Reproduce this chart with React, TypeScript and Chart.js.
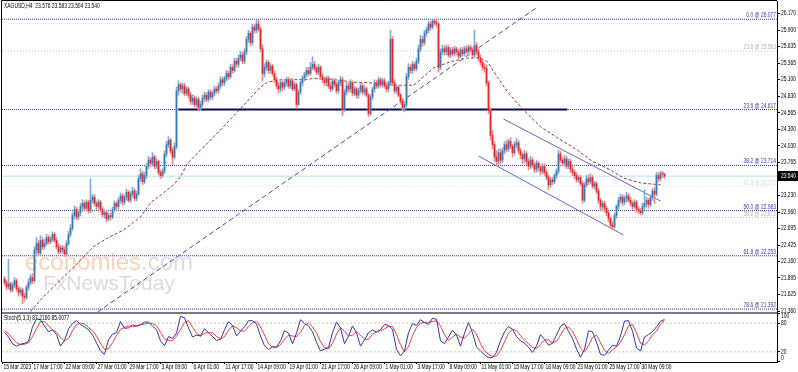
import React, { useEffect, useRef } from "react";
import { Chart, registerables } from "chart.js";
Chart.register(...registerables);

const W = 798;
const H = 372;

// ---------- header / legend texts ----------
const headerText = "XAGUSD,H4  23.576 23.583 23.504 23.540";
const stochText = "Stoch(5,3,3) 87.2160 85.0077";

// ---------- x axis (bar index, H4 bars) ----------
const xTickBars = [-1, 14, 30, 46, 62, 78, 94, 110, 126, 142, 158, 174, 190, 206, 222, 238, 254, 270, 286, 302, 318];
const xTickLabels = [
  "15 Mar 2023", "17 Mar 17:00", "22 Mar 09:00", "27 Mar 01:00", "29 Mar 17:00", "3 Apr 09:00",
  "6 Apr 01:00", "11 Apr 17:00", "14 Apr 09:00", "19 Apr 01:00", "21 Apr 17:00", "26 Apr 09:00",
  "1 May 01:00", "3 May 17:00", "8 May 09:00", "11 May 01:00", "15 May 17:00", "18 May 09:00",
  "23 May 01:00", "25 May 17:00", "30 May 09:00",
];

// ---------- price axis ----------
const yTickValues = [26.17, 25.9, 25.635, 25.365, 25.1, 24.83, 24.565, 24.3, 24.03, 23.765, 23.23, 22.96, 22.695, 22.425, 22.16, 21.895, 21.625, 21.36];
const yTickLabels = ["26.170", "25.900", "25.635", "25.365", "25.100", "24.830", "24.565", "24.300", "24.030", "23.765", "23.230", "22.960", "22.695", "22.425", "22.160", "21.895", "21.625", "21.360"];
const priceMin = 21.344;
const priceMax = 26.372;
const lastPrice = 23.54;
const lastPriceLabel = "23.540";

// ---------- candles ----------
const firstOpen = 21.88;
const closes = [
  21.82, 21.75, 21.80, 21.70, 21.78, 21.85, 21.72, 21.66, 21.70, 21.60,
  21.58, 21.74, 21.82, 21.90, 21.85, 22.35, 22.45, 22.30, 22.50, 22.40,
  22.45, 22.55, 22.48, 22.52, 22.60, 22.50, 22.40, 22.32, 22.38, 22.35,
  22.28, 22.45, 22.60, 22.70, 22.90, 23.00, 22.88, 22.95, 23.05, 23.10,
  23.02, 23.12, 22.98, 23.15, 23.20, 23.10, 23.05, 23.12, 23.00, 22.92,
  22.95, 22.85, 22.90, 22.88, 23.00, 23.10, 23.05, 23.15, 23.22, 23.12,
  23.20, 23.28, 23.15, 23.25, 23.30, 23.18, 23.25, 23.50, 23.58, 23.45,
  23.55, 23.70, 23.80, 23.75, 23.85, 23.70, 23.78, 23.60, 23.55, 23.62,
  23.90, 24.05, 24.12, 23.95, 23.85, 24.02, 24.92, 25.02, 24.95, 25.00,
  24.88, 24.95, 24.85, 24.75, 24.80, 24.70, 24.78, 24.65, 24.70, 24.80,
  24.85, 24.78, 24.90, 24.82, 24.88, 24.95, 24.92, 25.00, 25.10, 25.05,
  25.12, 25.20, 25.15, 25.30, 25.25, 25.40, 25.35, 25.45, 25.50, 25.40,
  25.55, 25.75, 25.85, 25.70, 25.95, 25.90, 26.00, 25.92, 25.60, 25.20,
  25.30, 25.38, 25.25, 25.32, 25.20, 25.10, 25.00, 24.95, 25.05, 24.98,
  25.05, 25.10, 25.00, 25.08, 24.95, 25.02, 24.70, 24.90, 25.05, 25.12,
  25.18, 25.25, 25.20, 25.30, 25.35, 25.28, 25.22, 25.30, 25.15, 25.10,
  25.05, 25.12, 25.00, 24.95, 25.08, 25.02, 24.92, 25.05, 25.10, 24.62,
  24.90, 25.00, 24.95, 25.05, 24.88, 24.95, 24.85, 24.92, 25.00, 24.90,
  24.95, 24.85, 24.55, 24.82, 24.95, 25.05, 25.00, 25.10, 25.02, 25.08,
  25.00, 24.95, 25.05, 25.75, 25.05, 24.92, 24.98, 24.85, 24.75, 24.65,
  24.70, 25.15, 25.30, 25.25, 25.35, 25.28, 25.40, 25.60, 25.75, 25.70,
  25.85, 25.90, 26.00, 25.95, 26.05, 26.02, 26.00, 25.30, 25.55, 25.60,
  25.55, 25.62, 25.50, 25.58, 25.52, 25.60, 25.55, 25.48, 25.58, 25.52,
  25.60, 25.55, 25.62, 25.58, 25.50, 25.65, 25.55, 25.45, 25.38, 25.30,
  25.28, 25.05, 24.60, 24.20, 24.05, 23.85, 23.78, 23.92, 23.80, 23.95,
  24.05, 23.98, 24.10, 24.02, 23.92, 24.05, 24.08, 23.95, 23.88, 23.82,
  23.90, 23.78, 23.70, 23.80, 23.72, 23.65, 23.75, 23.68, 23.62, 23.70,
  23.60, 23.52, 23.40, 23.48, 23.45, 23.55, 23.62, 23.90, 23.80, 23.75,
  23.82, 23.70, 23.78, 23.65, 23.60, 23.55, 23.48, 23.52, 23.42, 23.15,
  23.40, 23.50, 23.45, 23.52, 23.38, 23.42, 23.30, 23.15, 23.05, 23.10,
  23.02, 22.95, 22.85, 22.75, 22.72, 22.90, 23.05, 23.15, 23.20, 23.12,
  23.18, 23.22, 23.15, 23.10, 23.05, 23.12, 23.00, 22.98, 22.95, 23.05,
  23.10, 23.15, 23.08, 23.20, 23.30, 23.25, 23.55, 23.50, 23.58, 23.576, 23.54,
];
const highs = [
  21.92, 21.86, 22.20, 21.83, 21.82, 21.90, 21.88, 21.76, 21.74, 21.73,
  21.65, 21.78, 21.88, 21.95, 21.96, 22.40, 22.55, 22.50, 22.58, 22.55,
  22.52, 22.60, 22.58, 22.57, 22.64, 22.63, 22.55, 22.45, 22.42, 22.42,
  22.40, 22.50, 22.65, 22.76, 22.95, 23.06, 23.04, 23.00, 23.10, 23.16,
  23.14, 23.16, 23.15, 23.50, 23.25, 23.24, 23.14, 23.16, 23.15, 23.04,
  23.00, 22.99, 22.95, 22.94, 23.04, 23.14, 23.13, 23.19, 23.27, 23.26,
  23.24, 23.33, 23.31, 23.29, 23.36, 23.34, 23.30, 23.55, 23.66, 23.62,
  23.60, 23.75, 23.86, 23.84, 23.92, 23.88, 23.82, 23.80, 23.64, 23.66,
  23.95, 24.10, 24.18, 24.15, 24.00, 24.08, 24.98, 25.08, 25.05, 25.04,
  25.04, 24.99, 24.98, 24.90, 24.86, 24.84, 24.82, 24.82, 24.75, 24.85,
  24.90, 24.89, 24.94, 24.93, 24.92, 25.00, 24.99, 25.05, 25.15, 25.14,
  25.16, 25.25, 25.24, 25.35, 25.34, 25.45, 25.44, 25.50, 25.56, 25.54,
  25.60, 25.80, 25.90, 25.88, 26.00, 25.99, 26.06, 26.07, 25.95, 25.66,
  25.36, 25.42, 25.41, 25.36, 25.35, 25.24, 25.14, 25.06, 25.10, 25.08,
  25.10, 25.14, 25.14, 25.12, 25.12, 25.06, 25.05, 24.94, 25.08, 25.16,
  25.22, 25.30, 25.30, 25.38, 25.47, 25.40, 25.32, 25.35, 25.33, 25.20,
  25.14, 25.16, 25.16, 25.06, 25.12, 25.12, 25.06, 25.09, 25.15, 25.14,
  24.95, 25.06, 25.05, 25.10, 25.08, 24.99, 24.98, 24.96, 25.05, 25.04,
  25.00, 24.98, 24.88, 24.86, 24.98, 25.10, 25.09, 25.14, 25.13, 25.12,
  25.12, 25.05, 25.08, 25.90, 25.80, 25.10, 25.02, 25.00, 24.88, 24.80,
  24.75, 25.20, 25.36, 25.34, 25.40, 25.38, 25.45, 25.66, 25.82, 25.80,
  25.90, 25.95, 26.05, 26.04, 26.07, 26.077, 26.06, 26.03, 25.60, 25.66,
  25.65, 25.66, 25.66, 25.62, 25.62, 25.64, 25.63, 25.59, 25.62, 25.62,
  25.64, 25.65, 25.66, 25.66, 25.62, 25.90, 25.70, 25.60, 25.50, 25.42,
  25.36, 25.34, 25.08, 24.65, 24.28, 24.10, 23.95, 23.98, 23.98, 24.00,
  24.10, 24.12, 24.14, 24.16, 24.06, 24.10, 24.15, 24.12, 23.99, 23.92,
  23.96, 23.94, 23.82, 23.86, 23.84, 23.76, 23.80, 23.78, 23.72, 23.74,
  23.74, 23.64, 23.56, 23.52, 23.52, 23.58, 23.66, 23.96, 23.94, 23.84,
  23.88, 23.86, 23.82, 23.82, 23.70, 23.64, 23.60, 23.56, 23.55, 23.46,
  23.44, 23.55, 23.56, 23.58, 23.55, 23.46, 23.45, 23.34, 23.18, 23.14,
  23.14, 23.06, 22.98, 22.88, 22.80, 22.94, 23.08, 23.20, 23.25, 23.24,
  23.22, 23.28, 23.26, 23.20, 23.14, 23.16, 23.15, 23.05, 23.02, 23.10,
  23.32, 23.20, 23.18, 23.24, 23.34, 23.36, 23.60, 23.60, 23.62, 23.62, 23.583,
];
const lows = [
  21.78, 21.70, 21.71, 21.66, 21.67, 21.74, 21.68, 21.60, 21.62, 21.48,
  21.52, 21.55, 21.70, 21.78, 21.80, 21.82, 22.28, 22.25, 22.26, 22.35,
  22.36, 22.42, 22.44, 22.45, 22.48, 22.46, 22.36, 22.28, 22.29, 22.30,
  22.24, 22.25, 22.42, 22.56, 22.66, 22.85, 22.83, 22.84, 22.90, 23.00,
  22.97, 22.98, 22.94, 22.95, 23.10, 23.06, 23.00, 23.01, 22.96, 22.88,
  22.86, 22.80, 22.82, 22.83, 22.85, 22.96, 23.00, 23.01, 23.10, 23.07,
  23.08, 23.15, 23.12, 23.12, 23.20, 23.14, 23.14, 23.22, 23.45, 23.40,
  23.42, 23.50, 23.66, 23.70, 23.72, 23.66, 23.66, 23.56, 23.50, 23.52,
  23.58, 23.85, 24.00, 23.90, 23.72, 23.82, 23.98, 24.85, 24.90, 24.88,
  24.84, 24.84, 24.80, 24.70, 24.70, 24.66, 24.66, 24.60, 24.60, 24.66,
  24.75, 24.74, 24.74, 24.78, 24.78, 24.84, 24.88, 24.88, 24.96, 25.00,
  25.00, 25.08, 25.10, 25.12, 25.20, 25.22, 25.30, 25.30, 25.40, 25.36,
  25.36, 25.50, 25.70, 25.65, 25.66, 25.85, 25.86, 25.88, 25.55, 25.08,
  25.14, 25.25, 25.20, 25.20, 25.16, 25.05, 24.95, 24.88, 24.90, 24.92,
  24.94, 25.00, 24.96, 24.96, 24.92, 24.92, 24.64, 24.68, 24.86, 25.00,
  25.08, 25.14, 25.16, 25.17, 25.26, 25.24, 25.18, 25.18, 25.10, 25.05,
  25.00, 25.00, 24.96, 24.90, 24.92, 24.98, 24.88, 24.88, 25.00, 24.52,
  24.58, 24.85, 24.90, 24.90, 24.84, 24.84, 24.80, 24.80, 24.88, 24.86,
  24.85, 24.82, 24.50, 24.52, 24.78, 24.90, 24.96, 24.96, 24.98, 24.98,
  24.96, 24.90, 24.90, 25.00, 25.00, 24.88, 24.88, 24.82, 24.70, 24.60,
  24.58, 24.66, 25.10, 25.20, 25.20, 25.24, 25.24, 25.36, 25.55, 25.64,
  25.66, 25.80, 25.86, 25.90, 25.92, 25.98, 25.95, 25.22, 25.26, 25.50,
  25.50, 25.50, 25.46, 25.46, 25.48, 25.48, 25.50, 25.44, 25.45, 25.48,
  25.48, 25.52, 25.50, 25.54, 25.45, 25.46, 25.50, 25.40, 25.33, 25.25,
  25.22, 25.00, 24.55, 24.12, 23.98, 23.78, 23.70, 23.72, 23.74, 23.76,
  23.90, 23.93, 23.94, 23.98, 23.85, 23.88, 24.00, 23.90, 23.82, 23.74,
  23.76, 23.72, 23.64, 23.66, 23.68, 23.60, 23.60, 23.62, 23.56, 23.58,
  23.55, 23.48, 23.32, 23.36, 23.40, 23.42, 23.50, 23.58, 23.76, 23.70,
  23.70, 23.66, 23.66, 23.60, 23.55, 23.50, 23.44, 23.44, 23.38, 23.10,
  23.12, 23.36, 23.40, 23.42, 23.34, 23.34, 23.26, 23.10, 22.98, 22.98,
  22.96, 22.90, 22.80, 22.70, 22.67, 22.70, 22.86, 23.00, 23.10, 23.06,
  23.08, 23.12, 23.12, 23.06, 23.00, 23.02, 22.96, 22.94, 22.91, 22.92,
  23.00, 23.04, 23.02, 23.05, 23.15, 23.10, 23.22, 23.45, 23.46, 23.52, 23.504,
];

// ---------- moving average (dashed red), vertices ----------
const maBars = [13, 14.5, 19.5, 24.5, 38, 44.5, 51.5, 59.5, 68, 73, 79.5, 84.5, 88, 91.5, 98, 109, 128, 131.5, 138, 149.5, 158, 174.5, 183, 198, 204.5, 206.5, 214.5, 223, 231.5, 238, 241.5, 246.5, 251.5, 259.5, 268, 276.5, 286.5, 293, 303, 309.5, 318, 328];
const maValues = [21.35, 21.41, 21.59, 21.75, 22.18, 22.40, 22.54, 22.67, 22.88, 23.11, 23.27, 23.40, 23.53, 23.75, 23.96, 24.32, 24.98, 25.06, 25.10, 25.10, 25.13, 25.06, 25.05, 25.01, 25.01, 25.06, 25.29, 25.39, 25.45, 25.45, 25.39, 25.14, 24.90, 24.61, 24.34, 24.16, 23.96, 23.80, 23.64, 23.51, 23.43, 23.40];

// ---------- drawn objects ----------
const trendBars = [46.5, 266.5];
const trendValues = [21.344, 26.275];
const supportBars = [87, 281.5];
const supportValue = 24.617;
const channelUpperBars = [249.5, 328];
const channelUpperValues = [24.464, 23.138];
const channelLowerBars = [237, 309.5];
const channelLowerValues = [23.866, 22.589];

const fibBlueNames = ["0.0", "23.6", "38.2", "50.0", "61.8", "78.6"];
const fibBlueLevels = [26.077, 24.617, 23.714, 22.983, 22.253, 21.392];
const fibGrayNames = ["23.6", "61.8", "38.2"];
const fibGrayLevels = [25.563, 23.372, 22.872];

// ---------- stochastic (every 2nd bar) ----------
const stochStep = 2;
const stochK = [
  61, 51, 37, 32, 36, 38, 42, 72, 89, 87, 74, 62, 66, 56, 32, 44, 68, 79, 85, 77,
  72, 66, 55, 39, 22, 15, 45, 57, 60, 83, 69, 70, 76, 74, 77, 82, 82, 74, 66, 43,
  33, 52, 48, 59, 94, 91, 70, 51, 55, 53, 68, 60, 52, 44, 46, 66, 83, 75, 53, 63,
  72, 85, 85, 78, 53, 33, 25, 31, 30, 43, 64, 59, 37, 59, 87, 79, 74, 62, 40, 22,
  26, 29, 60, 82, 70, 37, 53, 74, 60, 32, 45, 60, 66, 61, 66, 77, 75, 67, 25, 12,
  22, 60, 79, 75, 87, 81, 77, 90, 88, 43, 37, 51, 65, 55, 32, 59, 81, 60, 30, 22,
  14, 8, 8, 19, 43, 62, 73, 67, 52, 43, 38, 30, 19, 32, 56, 46, 34, 38, 55, 73,
  79, 63, 48, 26, 9, 25, 64, 62, 40, 15, 13, 24, 34, 32, 53, 84, 85, 63, 28, 22,
  51, 56, 62, 72, 84, 87.2,
];
const stochD = [
  64, 58, 48, 39, 35, 36, 39, 52, 68, 83, 83, 74, 66, 61, 50, 43, 48, 64, 77, 80,
  78, 71, 64, 53, 38, 25, 27, 39, 54, 67, 71, 74, 72, 73, 76, 78, 80, 79, 74, 61,
  47, 43, 44, 53, 67, 81, 85, 71, 59, 53, 59, 60, 60, 52, 47, 52, 65, 75, 70, 64,
  63, 73, 81, 83, 72, 55, 37, 30, 29, 35, 46, 55, 53, 52, 61, 75, 80, 72, 59, 41,
  29, 26, 38, 57, 71, 63, 53, 55, 62, 55, 46, 46, 57, 62, 64, 68, 73, 73, 56, 35,
  20, 31, 54, 71, 80, 81, 82, 83, 85, 74, 56, 44, 51, 57, 51, 49, 57, 67, 57, 37,
  22, 15, 10, 12, 23, 41, 59, 67, 64, 54, 44, 37, 29, 27, 36, 45, 45, 39, 42, 55,
  69, 72, 63, 46, 28, 20, 33, 50, 55, 39, 23, 17, 24, 30, 40, 56, 74, 77, 59, 38,
  34, 43, 56, 63, 78, 85.0,
];
const stochLevels = [80, 20];
const stochTicks = [100, 80, 20, 0];

// ---------- styling ----------
const FONT = "'Liberation Sans', Arial, sans-serif";
const SMALL = `6.5px ${FONT}`;
const SQUEEZE = 0.76;
const X_MIN = -1.25;
const X_MAX = 386.25;
const MAIN_WEIGHT = 311;
const STOCH_WEIGHT = 50;

function squeezeText(ctx: CanvasRenderingContext2D, t: string, x: number, y: number) {
  const w = ctx.measureText(t).width;
  ctx.fillText(t, x, y, w * SQUEEZE);
}

export default function App() {
  const ref = useRef<HTMLCanvasElement | null>(null);

  useEffect(() => {
    document.body.style.margin = "0";
    const canvas = ref.current;
    if (!canvas) return;

    const opens = [firstOpen, ...closes.slice(0, -1)];
    const isUp = (i: number) => closes[i] >= opens[i];

    const hLine = (lvl: number) => [
      { x: X_MIN, y: lvl },
      { x: X_MAX, y: lvl },
    ];

    const datasets: any[] = [];

    // candle bodies
    datasets.push({
      type: "bar",
      data: closes.map((c, i) => ({ x: i, y: [opens[i], c] })),
      backgroundColor: (ctx: any) => (isUp(ctx.dataIndex) ? "#3f78b0" : "#ee2222"),
      borderWidth: 0,
      barThickness: 1,
      minBarLength: 1,
      grouped: false,
      xAxisID: "x",
      yAxisID: "y",
      order: 1,
    });
    // candle wicks
    datasets.push({
      type: "bar",
      data: closes.map((c, i) => ({
        x: i,
        y: [Math.min(lows[i], opens[i], c), Math.max(highs[i], opens[i], c)],
      })),
      backgroundColor: (ctx: any) => (isUp(ctx.dataIndex) ? "#86acd2" : "#f38a8a"),
      borderWidth: 0,
      barThickness: 1,
      grouped: false,
      xAxisID: "x",
      yAxisID: "y",
      order: 2,
    });

    const lineBase = {
      type: "line",
      pointRadius: 0,
      borderWidth: 1,
      tension: 0,
      fill: false,
      xAxisID: "x",
      yAxisID: "y",
    };

    datasets.push({
      ...lineBase,
      data: maBars.map((b, i) => ({ x: b, y: maValues[i] })),
      borderColor: "#a83232",
      borderDash: [3, 2],
      order: 3,
    });
    datasets.push({
      ...lineBase,
      data: trendBars.map((b, i) => ({ x: b, y: trendValues[i] })),
      borderColor: "#4848b8",
      borderDash: [5, 3],
      order: 4,
    });
    datasets.push({
      ...lineBase,
      data: supportBars.map((b) => ({ x: b, y: supportValue })),
      borderColor: "#0c0c48",
      borderWidth: 2,
      order: 4,
    });
    datasets.push({
      ...lineBase,
      data: channelUpperBars.map((b, i) => ({ x: b, y: channelUpperValues[i] })),
      borderColor: "#6464cc",
      order: 4,
    });
    datasets.push({
      ...lineBase,
      data: channelLowerBars.map((b, i) => ({ x: b, y: channelLowerValues[i] })),
      borderColor: "#6464cc",
      order: 4,
    });
    fibBlueLevels.forEach((lvl) =>
      datasets.push({ ...lineBase, data: hLine(lvl), borderColor: "#3a3aa6", borderDash: [1, 1], order: 10 })
    );
    fibGrayLevels.forEach((lvl, k) =>
      datasets.push({
        ...lineBase,
        data: hLine(lvl),
        borderColor: k === 1 ? "#e4def2" : "#c4c4c4",
        borderDash: [1, 2],
        order: 10,
      })
    );
    datasets.push({ ...lineBase, data: hLine(lastPrice), borderColor: "#b4e2ea", order: 11 });

    // stochastic
    const stochBase = {
      type: "line",
      pointRadius: 0,
      borderWidth: 1,
      tension: 0,
      fill: false,
      xAxisID: "x",
      yAxisID: "ys",
    };
    stochLevels.forEach((lvl) =>
      datasets.push({ ...stochBase, data: hLine(lvl), borderColor: "#c8c8c8", borderDash: [2, 2], order: 12 })
    );
    datasets.push({
      ...stochBase,
      data: stochD.map((v, j) => ({ x: j * stochStep, y: v })),
      borderColor: "#ff3a3a",
      order: 6,
    });
    datasets.push({
      ...stochBase,
      data: stochK.map((v, j) => ({ x: j * stochStep, y: v })),
      borderColor: "#3434b0",
      order: 5,
    });

    const overlay = {
      id: "mt4overlay",
      beforeDatasetsDraw(chart: any) {
        const ctx = chart.ctx;
        ctx.save();
        ctx.textBaseline = "alphabetic";
        ctx.textAlign = "left";
        ctx.font = `24px ${FONT}`;
        ctx.fillStyle = "rgba(244,150,80,0.42)";
        ctx.fillText("economies", 25, 270);
        const w = ctx.measureText("economies").width;
        ctx.fillStyle = "rgba(170,170,170,0.4)";
        ctx.fillText(".com", 25 + w, 270);
        ctx.font = `21px ${FONT}`;
        ctx.fillStyle = "rgba(165,165,165,0.4)";
        ctx.fillText("FxNewsToday", 43, 290);
        ctx.restore();
      },
      afterDraw(chart: any) {
        const ctx = chart.ctx;
        const area = chart.chartArea;
        const ys = chart.scales.y;
        const ss = chart.scales.ys;
        const xs = chart.scales.x;
        ctx.save();
        // frame
        ctx.strokeStyle = "#000";
        ctx.lineWidth = 1;
        ctx.beginPath();
        ctx.moveTo(area.left - 0.5, area.bottom);
        ctx.lineTo(area.left - 0.5, area.top - 0.5);
        ctx.lineTo(area.right, area.top - 0.5);
        ctx.stroke();
        // panel separator
        ctx.fillStyle = "#7a7a7a";
        ctx.fillRect(area.left, ys.bottom, area.right - area.left, 2);

        ctx.font = SMALL;
        ctx.fillStyle = "#000";
        ctx.textAlign = "left";
        ctx.textBaseline = "top";
        squeezeText(ctx, headerText, 4, 2.5);
        squeezeText(ctx, stochText, 4, ys.bottom + 3);

        // x labels
        xTickBars.forEach((b, k) => {
          const px = Math.max(xs.getPixelForValue(b), area.left);
          squeezeText(ctx, xTickLabels[k], px + 1, area.bottom + 2);
        });

        // price axis labels
        ctx.textBaseline = "middle";
        yTickValues.forEach((v, k) => {
          const py = ys.getPixelForValue(v);
          squeezeText(ctx, yTickLabels[k], area.right + 4, py);
        });
        // stochastic axis labels (kept inside the pane like MT4 does)
        stochTicks.forEach((v) => {
          const py = Math.min(Math.max(ss.getPixelForValue(v), ss.top + 4.5), ss.bottom - 4);
          squeezeText(ctx, String(v), area.right + 4, py);
        });

        // fib labels
        ctx.textAlign = "right";
        ctx.textBaseline = "bottom";
        fibBlueLevels.forEach((lvl, k) => {
          const y = ys.getPixelForValue(lvl);
          ctx.fillStyle = "#3a3aa6";
          squeezeText(ctx, `${fibBlueNames[k]} @ ${lvl.toFixed(3)}`, area.right - 1, y - 0.5);
        });
        fibGrayLevels.forEach((lvl, k) => {
          const y = ys.getPixelForValue(lvl);
          ctx.fillStyle = k === 1 ? "#dcd6ee" : "#b4b4b4";
          squeezeText(ctx, `${fibGrayNames[k]} @ ${lvl.toFixed(3)}`, area.right - 1, y - 0.5);
        });

        // last price box
        const py = ys.getPixelForValue(lastPrice);
        ctx.fillStyle = "#000";
        ctx.fillRect(area.right + 1, Math.round(py) - 5, W - area.right - 1, 10);
        ctx.fillStyle = "#fff";
        ctx.textAlign = "left";
        ctx.textBaseline = "middle";
        squeezeText(ctx, lastPriceLabel, area.right + 4, py);
        ctx.restore();
      },
    };

    const chart = new Chart(canvas, {
      type: "bar",
      data: { datasets },
      plugins: [overlay],
      options: {
        responsive: false,
        animation: false,
        devicePixelRatio: 1,
        events: [],
        layout: { padding: { left: 2, top: 1, right: 0, bottom: 0 } },
        plugins: { legend: { display: false }, tooltip: { enabled: false } },
        scales: {
          x: {
            type: "linear",
            position: "bottom",
            min: X_MIN,
            max: X_MAX,
            offset: false,
            afterBuildTicks: (s: any) => {
              s.ticks = xTickBars.map((v) => ({ value: v }));
            },
            afterFit: (s: any) => {
              s.height = 10;
            },
            ticks: { display: false, autoSkip: false, maxRotation: 0 },
            grid: { drawOnChartArea: false, drawTicks: true, tickLength: 2, color: "#000", offset: false },
            border: { display: true, color: "#000" },
          },
          y: {
            type: "linear",
            position: "right",
            stack: "panes",
            stackWeight: MAIN_WEIGHT,
            min: priceMin,
            max: priceMax,
            afterBuildTicks: (s: any) => {
              s.ticks = yTickValues.map((v) => ({ value: v }));
            },
            afterFit: (s: any) => {
              s.width = 21;
            },
            ticks: { display: false, autoSkip: false },
            grid: { drawOnChartArea: false, drawTicks: true, tickLength: 3, color: "#000" },
            border: { display: true, color: "#000" },
          },
          ys: {
            type: "linear",
            position: "right",
            stack: "panes",
            stackWeight: STOCH_WEIGHT,
            min: -1,
            max: 103,
            afterBuildTicks: (s: any) => {
              s.ticks = stochTicks.map((v) => ({ value: v }));
            },
            afterFit: (s: any) => {
              s.width = 21;
            },
            ticks: { display: false, autoSkip: false },
            grid: { drawOnChartArea: false, drawTicks: true, tickLength: 3, color: "#000" },
            border: { display: true, color: "#000" },
          },
        },
      } as any,
    } as any);

    return () => chart.destroy();
  }, []);

  return (
    <div style={{ width: W, height: H, background: "#fff" }}>
      <canvas ref={ref} width={W} height={H} style={{ display: "block", width: W, height: H }} />
    </div>
  );
}
